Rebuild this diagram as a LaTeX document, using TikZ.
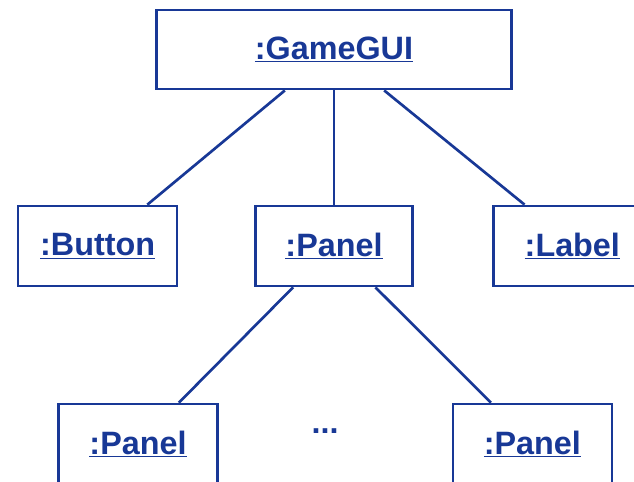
\documentclass[tikz,border=0pt]{standalone}
\usepackage{fontspec}
\setmainfont{Liberation Sans}
\definecolor{umlblue}{RGB}{24,56,150}
\begin{document}
\begin{tikzpicture}[
  obj/.style={draw=umlblue, line width=1.9pt, fill=white, text=umlblue,
    minimum height=2cm, inner sep=0pt, font=\fontsize{23}{27}\selectfont\bfseries},
  link/.style={draw=umlblue, line width=1.9pt}]
\useasboundingbox (0,0) rectangle (15.85,-12.05);
\node [obj, minimum width=8.875cm, minimum height=1.975cm] (gui) at (8.35,-1.24) {\underline{:GameGUI}};
\node [obj, minimum width=3.975cm] (button) at (2.44,-6.15) {\underline{:Button}};
\node [obj, minimum width=3.925cm] (panel) at (8.35,-6.15) {\underline{:Panel}};
\node [obj, minimum width=4.1cm, anchor=west] (label) at (12.3,-6.15) {\hspace*{-0.15cm}\underline{:Label}};
\node [obj, minimum width=3.975cm] (panelA) at (3.45,-11.1) {\underline{:Panel}};
\node [obj, minimum width=3.975cm] (panelB) at (13.31,-11.1) {\underline{:Panel}};
\node [text=umlblue, font=\fontsize{23}{27}\selectfont\bfseries, anchor=base] (dots) at (8.125,-10.85) {...};
\draw [link] (gui) -- (button);
\draw [link] (gui) -- (panel);
\draw [link] (gui) -- (label);
\draw [link] (panel) -- (panelA);
\draw [link] (panel) -- (panelB);
\end{tikzpicture}
\end{document}
